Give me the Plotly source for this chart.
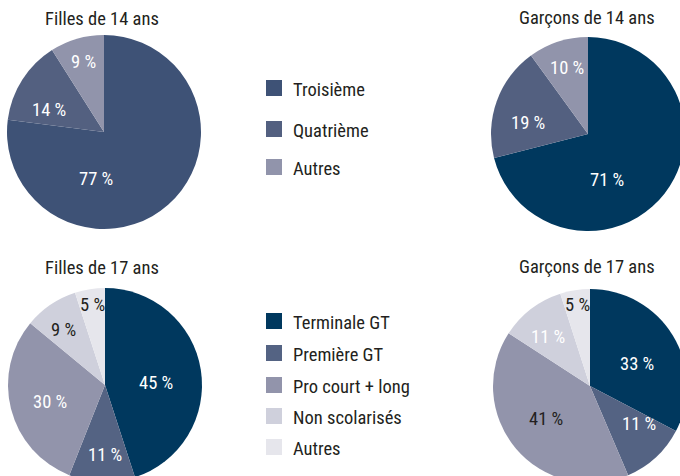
import math
import plotly.graph_objects as go

# ---- data ----
labels_14 = ["Troisième", "Quatrième", "Autres"]
filles_14 = [77, 14, 9]
garcons_14 = [71, 19, 10]

labels_17 = ["Terminale GT", "Première GT", "Pro court + long", "Non scolarisés", "Autres"]
filles_17 = [45, 11, 30, 9, 5]
garcons_17 = [33, 11, 41, 11, 5]

titles = ["Filles de 14 ans", "Garçons de 14 ans", "Filles de 17 ans", "Garçons de 17 ans"]

# ---- style ----
W, H = 690, 486
FONT = "Roboto Condensed, Liberation Sans Narrow, DejaVu Sans Condensed, Roboto, sans-serif"
FS = 18.5
FW = 400
TXT = "#231f20"
col_f14 = ["#3e5276", "#536080", "#9194ab"]
col_g14 = ["#00385e", "#536080", "#9194ab"]
col_17 = ["#00385e", "#546383", "#9294ab", "#cfd0dc", "#e6e6ec"]
txtcol_f17 = ["white", "white", "white", TXT, TXT]
txtcol_g17 = ["white", "white", TXT, "white", TXT]

R = 97
centers = [(104, 132), (588, 134), (105, 385), (590, 386)]
# label placement: (distance from centre in px, angular tweak from slice mid-angle in degrees)
lab_place = [
    [(48, 51), (59, -10), (73, 0)],
    [(50, 30), (61, -9), (69, 0)],
    [(51, 7), (70, -2), (58, -3), (69, -3), (81, 0)],
    [(52, 6), (62, -9), (55, 3), (64, -3), (82, 0)],
]


def dom(cx, cy):
    return dict(x=[(cx - R) / W, (cx + R) / W],
                y=[1 - (cy + R) / H, 1 - (cy - R) / H])


def fnt(color):
    return dict(family=FONT, size=FS, color=color, weight=FW)


fig = go.Figure()
specs = [
    (labels_14, filles_14, col_f14, ["white"] * 3),
    (labels_14, garcons_14, col_g14, ["white"] * 3),
    (labels_17, filles_17, col_17, txtcol_f17),
    (labels_17, garcons_17, col_17, txtcol_g17),
]
for (labs, vals, cols, tcols), (cx, cy), places in zip(specs, centers, lab_place):
    fig.add_trace(go.Pie(
        labels=labs, values=vals, sort=False, direction="clockwise", rotation=0,
        marker=dict(colors=cols, line=dict(width=0)),
        textinfo="none", hoverinfo="label+value", showlegend=False, domain=dom(cx, cy),
    ))
    total = sum(vals)
    cum = 0
    for v, tc, (dist, tweak) in zip(vals, tcols, places):
        mid = (cum + v / 2) / total * 360 + tweak
        cum += v
        a = math.radians(mid)
        px = cx + dist * math.sin(a)
        py = cy - dist * math.cos(a)
        fig.add_annotation(x=px / W, y=1 - py / H, xref="paper", yref="paper",
                           text=f"{v} %", showarrow=False, font=fnt(tc),
                           xanchor="center", yanchor="middle")

title_pos = [(102, 19), (587, 18), (102, 268), (587, 267)]
for t, (x, y) in zip(titles, title_pos):
    fig.add_annotation(x=x / W, y=1 - y / H, xref="paper", yref="paper", text=t,
                       showarrow=False, font=fnt(TXT),
                       xanchor="center", yanchor="middle")

# ---- manual legends ----
leg_top = [(labels_14[i], col_f14[i], y) for i, y in enumerate([88, 129, 167])]
leg_bot = [(labels_17[i], col_17[i], y) for i, y in enumerate([321, 353, 385, 416, 447])]
for lab, c, y in leg_top + leg_bot:
    fig.add_shape(type="rect", xref="paper", yref="paper",
                  x0=266 / W, x1=282 / W, y0=1 - (y + 8) / H, y1=1 - (y - 8) / H,
                  fillcolor=c, line=dict(width=0))
    fig.add_annotation(x=291 / W, y=1 - (y + 2) / H, xref="paper", yref="paper", text=lab,
                       showarrow=False, font=fnt(TXT),
                       xanchor="left", yanchor="middle")

fig.update_layout(width=W, height=H, margin=dict(l=0, r=0, t=0, b=0),
                  paper_bgcolor="white", plot_bgcolor="white")

fig.write_html("out.html", config={"displayModeBar": False}, post_script=(
    "document.body.style.margin='0';document.body.style.overflow='hidden';"
    "document.documentElement.style.overflow='hidden';"))
